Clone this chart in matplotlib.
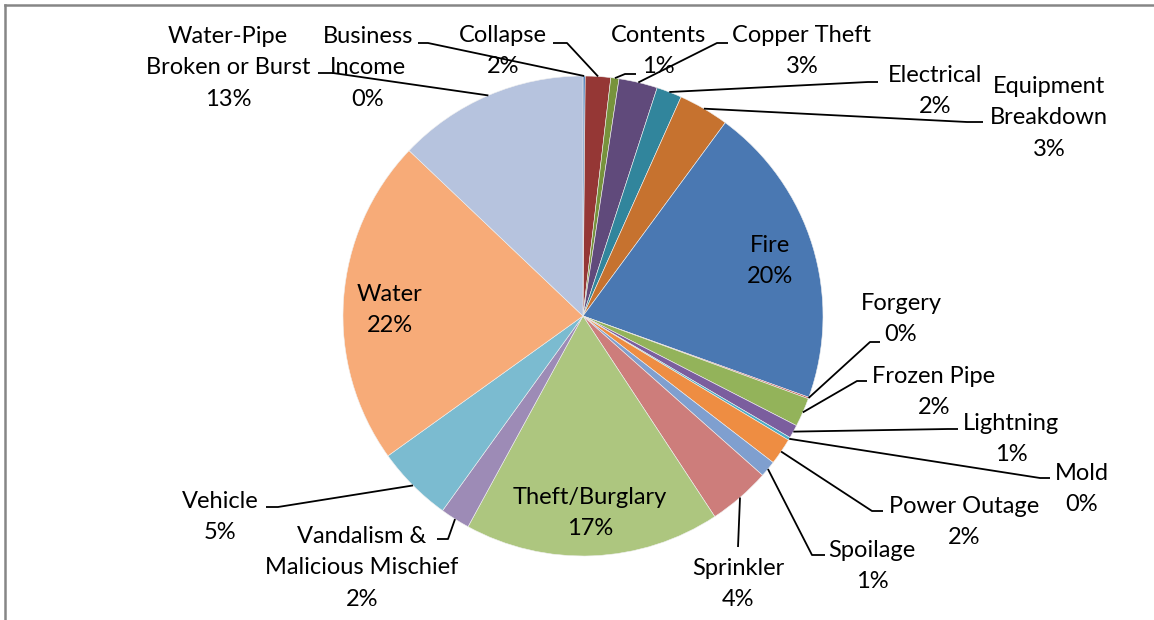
import numpy as np
import matplotlib
matplotlib.use("Agg")
import matplotlib.pyplot as plt

plt.rcParams['font.family'] = ['Lato', 'DejaVu Sans']

categories = ["Business\nIncome", "Collapse", "Contents", "Copper Theft", "Electrical",
              "Equipment\nBreakdown", "Fire", "Forgery", "Frozen Pipe", "Lightning", "Mold",
              "Power Outage", "Spoilage", "Sprinkler", "Theft/Burglary",
              "Vandalism &\nMalicious Mischief", "Vehicle", "Water",
              "Water-Pipe\nBroken or Burst"]
values = [0.15, 1.7, 0.55, 2.6, 1.7, 3.4, 20.4, 0.1, 1.95, 0.9, 0.2, 1.8, 1.1, 4.2,
          17.2, 2.0, 5.15, 22.0, 12.9]

colors = ["#4a7ebb", "#953735", "#77933c", "#604a7b", "#31859c", "#c6722f",
          "#4a78b2", "#c0504d", "#93b35a", "#7b5e9e", "#4bacc6", "#ee8d42",
          "#7f9fcf", "#cd7d7b", "#adc67f", "#9d8bb6", "#7bbbd0", "#f7ab78", "#b6c3de"]

H = 620
cx, cy, R = 583, 316, 240

# label centres (px from top-left) and leader polylines (label side first)
label_pos = [(368, 68), (503, 51), (658, 51), (802, 51), (935, 91), (1049, 118),
             (770, 261), (901, 319), (934, 392), (1011, 439), (1082, 489), (964, 522),
             (872, 566), (738, 584), (590, 513), (362, 568), (220, 517), (390, 310),
             (228, 68)]
leaders = [[(418, 43), (428, 43)], [(553, 43), (567, 43)], [(636, 74), (625, 74)],
           [(728, 43), (717, 43)], [(878, 82), (868, 82)], [(983, 122), (967, 122)],
           None, [(880, 342), (870, 342)], [(867, 381), (857, 381)],
           [(958, 429), (948, 429)], [(1050, 478), (1040, 478)], [(883, 511), (872, 511)],
           [(825, 555), (812, 555)], [(738, 547)], None, [(437, 539), (448, 539)],
           [(266, 507), (278, 507)], None, [(318, 73), (333, 73)]]

fig = plt.figure(figsize=(11.54, 6.2), dpi=100)
ax = fig.add_axes([0, 0, 1, 1])

wedges, _ = ax.pie(values, colors=colors, startangle=90, counterclock=False,
                   center=(cx, H - cy), radius=R,
                   wedgeprops=dict(edgecolor="#f0f0f0", linewidth=0.4))
ax.set_xlim(0, 1154)
ax.set_ylim(0, H)
ax.set_aspect('equal')
ax.axis('off')

total = sum(values)
for i, w in enumerate(wedges):
    pct = values[i] / total * 100
    lx, ly = label_pos[i]
    ax.text(lx, H - ly, f"{categories[i]}\n{pct:.0f}%", ha="center", va="center",
            fontsize=17, linespacing=1.6, color="black")
    if leaders[i] is not None:
        mid = np.deg2rad((w.theta1 + w.theta2) / 2)
        ex, ey = cx + R * np.cos(mid), H - cy + R * np.sin(mid)
        xs = [p[0] for p in leaders[i]] + [ex]
        ys = [H - p[1] for p in leaders[i]] + [ey]
        ax.plot(xs, ys, color="black", lw=1.3, solid_capstyle="butt")

# chart frame (top and left edges visible)
ax.plot([5, 1154], [H - 5, H - 5], color="#868686", lw=1.8)
ax.plot([5, 5], [H - 5, 0], color="#868686", lw=1.8)

fig.savefig("out.png", dpi=100)
